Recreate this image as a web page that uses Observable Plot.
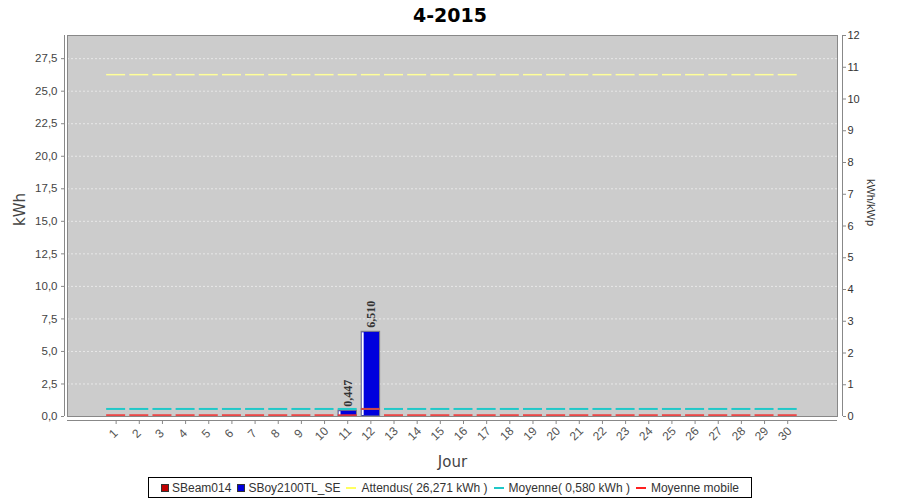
<!DOCTYPE html>
<html><head><meta charset="utf-8">
<script src="https://cdn.jsdelivr.net/npm/d3@7"></script>
<script src="https://cdn.jsdelivr.net/npm/@observablehq/plot@0.6"></script>
<style>
body{margin:0;background:#fff;width:900px;height:500px;overflow:hidden;position:relative;font-family:"Liberation Sans",Arial,sans-serif}
#title{position:absolute;left:0;top:0;width:900px;height:30px;line-height:30px;text-align:center;font-weight:bold;font-size:19px;font-family:"DejaVu Sans",sans-serif;color:#000}
#chart{position:absolute;left:0;top:30px}
#legend{position:absolute;left:148px;top:477px;width:602px;height:19px;border:1px solid #000;display:flex;align-items:center;justify-content:center;font-size:12px;color:#333;white-space:pre}
.item{display:flex;align-items:center;margin:0 3px}
.sw{width:8px;height:8px;border:1px solid #333;margin-right:3px;box-sizing:border-box}
.ln{width:10px;height:2px;margin-right:5px}
</style></head><body>
<div id="title">4-2015</div><div id="chart"></div><div id="legend"></div>
<script>
// ---- data ----
const days = [1,2,3,4,5,6,7,8,9,10,11,12,13,14,15,16,17,18,19,20,21,22,23,24,25,26,27,28,29,30];
const sbeam014 = [0,0,0,0,0,0,0,0,0,0,0,0,0,0,0,0,0,0,0,0,0,0,0,0,0,0,0,0,0,0];
const sboy2100 = [0,0,0,0,0,0,0,0,0,0,0.447,6.510,0,0,0,0,0,0,0,0,0,0,0,0,0,0,0,0,0,0];
const attendu = 26.271;
const moyenne = 0.580;
const moyenneMobile = [0.1,0.1,0.1,0.1,0.1,0.1,0.1,0.1,0.1,0.1,0.1,0.58,0.1,0.1,0.1,0.1,0.1,0.1,0.1,0.1,0.1,0.1,0.1,0.1,0.1,0.1,0.1,0.1,0.1,0.1];
const leftTicks = [0,2.5,5,7.5,10,12.5,15,17.5,20,22.5,25,27.5];
const rightTicks = [0,1,2,3,4,5,6,7,8,9,10,11,12];
const kwp = 2.44;
const seriesNames = ["SBeam014","SBoy2100TL_SE"];
const seriesColors = ["#c00000","#0000dd"];

// ---- derived tables ----
const fmt1 = v => v.toFixed(1).replace(".", ",");
const fmt3 = v => v.toFixed(3).replace(".", ",");
const bars = [];
days.forEach((d,i) => {
  if (sbeam014[i] > 0) bars.push({day:d, y1:0, y2:sbeam014[i], s:0});
  if (sboy2100[i] > 0) bars.push({day:d, y1:sbeam014[i], y2:sbeam014[i]+sboy2100[i], s:1});
});
const totals = days.map((d,i) => ({day:d, total: sbeam014[i]+sboy2100[i]})).filter(d => d.total > 0);
const mm = days.map((d,i) => ({day:d, v: moyenneMobile[i]}));
const ymax = 12*kwp;
const xDomain = [-1.1, 32.15];
const hw = 0.41;

const plot = Plot.plot({
  width: 900, height: 442,
  marginLeft: 67, marginRight: 63, marginTop: 5, marginBottom: 56,
  x: {domain: xDomain, axis: null},
  y: {domain: [0, ymax], axis: null},
  style: {fontFamily: "'Liberation Sans', Arial, sans-serif", fontSize: "11.5px", color: "#444", background: "transparent"},
  marks: [
    Plot.frame({fill: "#cccccc", stroke: "none"}),
    Plot.ruleY(leftTicks.slice(1), {stroke: "#fff", strokeDasharray: "2,2", strokeWidth: 0.7, strokeOpacity: 0.8}),
    Plot.ruleY(days, {y: () => attendu, x1: d => d - hw, x2: d => d + hw, stroke: "#ffff9a", strokeWidth: 1.5}),
    Plot.rectY(bars, {x1: d => d.day - 0.4, x2: d => d.day + 0.4, y1: "y1", y2: "y2", fill: d => seriesColors[d.s], stroke: "#808080", strokeWidth: 1}),
    Plot.rectY(bars, {x1: d => d.day - 0.37, x2: d => d.day - 0.29, y1: "y1", y2: "y2", fill: "#fff", insetTop: 1, insetBottom: 1}),
    Plot.ruleY(days, {y: () => moyenne, x1: d => d - hw, x2: d => d + hw, stroke: "#20c8c8", strokeWidth: 2}),
    Plot.ruleY(mm, {y: "v", x1: d => d.day - hw, x2: d => d.day + hw, stroke: "#f03030", strokeWidth: 2, strokeOpacity: 0.85}),
    Plot.text(totals, {x: "day", y: "total", text: d => fmt3(d.total), rotate: -90, textAnchor: "start", dy: -4,
      fontFamily: "'Liberation Serif', serif", fontWeight: "bold", fontSize: 12, fill: "#333"}),
    Plot.frame({stroke: "#888"}),
    // axis lines
    Plot.ruleX([xDomain[0]], {dx: -3, y1: 0, y2: ymax, stroke: "#888"}),
    Plot.ruleX([xDomain[1]], {dx: 5, y1: 0, y2: ymax, stroke: "#888"}),
    Plot.ruleY([0], {dy: 4, x1: xDomain[0], x2: xDomain[1], stroke: "#888"}),
    // axes
    Plot.axisY({anchor: "left", dx: -3, ticks: leftTicks, tickFormat: fmt1, tickSize: 3, tickPadding: 4, stroke: "#888", label: null}),
    Plot.axisY({anchor: "right", dx: 5, ticks: rightTicks.map(k => k*kwp), tickFormat: v => String(Math.round(v/kwp)), tickSize: 3, tickPadding: 2, fontSize: 11, fill: "#333", stroke: "#888", label: null}),
    Plot.axisX({anchor: "bottom", dy: 4, ticks: days, tickSize: 4, tickFormat: () => "", stroke: "#888", label: null}),
    Plot.text(days, {x: d => d, frameAnchor: "bottom", dy: 20, rotate: -45, text: d => String(d), fill: "#555", fontSize: 12}),
    // axis titles
    Plot.text(["Jour"], {frameAnchor: "bottom", dy: 50, fontSize: 15, fill: "#444", fontFamily: "'DejaVu Sans', sans-serif"}),
    Plot.text(["kWh"], {frameAnchor: "left", dx: -47, rotate: -90, fontSize: 15, fill: "#444", fontFamily: "'DejaVu Sans', sans-serif"}),
    Plot.text(["kWh/kWp"], {frameAnchor: "right", dx: 33, rotate: 90, fontSize: 11, fill: "#333"})
  ]
});
document.getElementById("chart").appendChild(plot);

// legend
const legendItems = [
  {type: "sw", color: seriesColors[0], label: seriesNames[0]},
  {type: "sw", color: seriesColors[1], label: seriesNames[1]},
  {type: "ln", color: "#ffff60", label: "Attendus( " + fmt3(attendu) + " kWh )"},
  {type: "ln", color: "#20c8c8", label: "Moyenne( " + fmt3(moyenne) + " kWh )"},
  {type: "ln", color: "#ff2020", label: "Moyenne mobile"}
];
const lg = document.getElementById("legend");
legendItems.forEach(it => {
  const el = document.createElement("span"); el.className = "item";
  const s = document.createElement("span"); s.className = it.type; s.style.background = it.color;
  const t = document.createElement("span"); t.textContent = it.label;
  el.appendChild(s); el.appendChild(t); lg.appendChild(el);
});
</script>
</body></html>
